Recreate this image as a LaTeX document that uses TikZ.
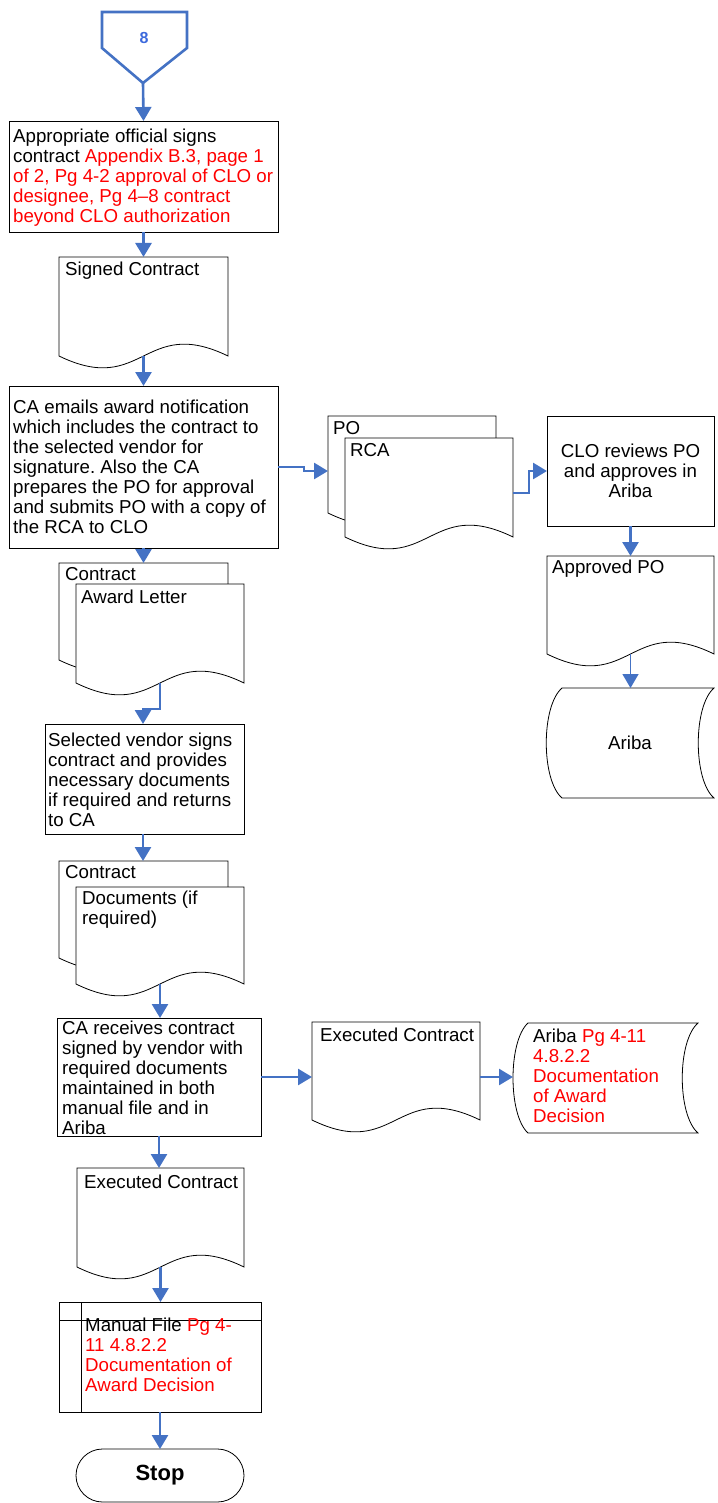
\documentclass[tikz,border=0pt]{standalone}
\usepackage{fontspec}
\setmainfont{Liberation Sans}
\usetikzlibrary{arrows.meta,calc}
\frenchspacing

\definecolor{flowblue}{RGB}{68,114,196}
\definecolor{refred}{RGB}{255,0,0}
\definecolor{pageblue}{RGB}{60,105,220}

\newcommand\bodyfont{\fontsize{18.7}{20}\selectfont}
\newcommand\rd[1]{\textcolor{refred}{#1}}

% document symbol: straight top and sides, wavy bottom through the frame's south anchor
\newcommand\drawdoc[1]{%
  \draw[outline] (#1.south west) -- (#1.north west) -- (#1.north east) -- (#1.south east)
    .. controls ($(#1.south)+(0,-41)$) and ($(#1.south)+(0,41)$) .. (#1.south west) -- cycle;}

\tikzset{
  outline/.style={draw=black, line width=0.8pt, fill=white, line join=miter},
  boxnode/.style={outline, inner sep=0pt, outer sep=0pt},
  frame/.style={inner sep=0pt, outer sep=0pt},
  flow/.style={draw=flowblue, line width=2.6pt, -{Triangle[length=14pt,width=16pt]}},
  thinflow/.style={draw=flowblue, line width=1.4pt, -{Triangle[length=14pt,width=16pt]}},
  % multi-line labels sit on the baseline of their last line
  txt/.style={anchor=base west, inner sep=0pt, align=left, font=\bodyfont},
  ctxt/.style={inner sep=0pt, align=center, font=\bodyfont},
}

\begin{document}
\begin{tikzpicture}[x=1pt, y=-1pt]
\useasboundingbox (0,0) rectangle (717,1503);

% ---- off-page reference 8 ----
\draw[draw=flowblue, line width=2.6pt, line join=miter] (102,12) -- (187,12) -- (187,48) -- (143,83) -- (102,48) -- cycle;
\node[inner sep=0pt, text=pageblue, font=\fontsize{16}{18}\selectfont\bfseries] (c8) at (144,37.5) {8};
\coordinate (c8tip) at (143,83);

% ---- left column ----
\node[boxnode, minimum width=269pt, minimum height=111pt] (b1) at (143.5,176.5) {};
\node[txt] (t1) at (13,223) {Appropriate official signs\\contract \rd{Appendix B.3, page 1}\\\rd{of 2, Pg 4-2 approval of CLO or}\\\rd{designee, Pg 4–8 contract}\\\rd{beyond CLO authorization}};

\node[frame, minimum width=169pt, minimum height=99pt] (sc) at (143.5,306.5) {};
\drawdoc{sc}
\node[txt] (sct) at (65,276) {Signed Contract};

\node[boxnode, minimum width=269pt, minimum height=162pt] (b2) at (143.5,467) {};
\node[txt] (t2) at (13,533) {CA emails award notification\\which includes the contract to\\the selected vendor for\\signature. Also the CA\\prepares the PO for approval\\and submits PO with a copy of\\the RCA to CLO};

\node[frame, minimum width=169pt, minimum height=97pt] (ctr1) at (143.5,611.5) {};
\drawdoc{ctr1}
\node[txt] (ctr1t) at (65,580) {Contract};
\node[frame, minimum width=168pt, minimum height=99pt] (awd) at (160,633.5) {};
\drawdoc{awd}
\node[txt] (awdt) at (81,603) {Award Letter};

\node[boxnode, minimum width=199pt, minimum height=110pt] (b3) at (144.5,779) {};
\node[txt] (t3) at (48,826) {Selected vendor signs\\contract and provides\\necessary documents\\if required and returns\\to CA};

\node[frame, minimum width=169pt, minimum height=97pt] (ctr2) at (143.5,909.5) {};
\drawdoc{ctr2}
\node[txt] (ctr2t) at (65,878) {Contract};
\node[frame, minimum width=168pt, minimum height=97pt] (docs) at (160,935.5) {};
\drawdoc{docs}
\node[txt] (docst) at (82,924) {Documents (if\\required)};

\node[boxnode, minimum width=204pt, minimum height=118pt] (b4) at (159,1077) {};
\node[txt] (t4) at (62,1134) {CA receives contract\\signed by vendor with\\required documents\\maintained in both\\manual file and in\\Ariba};

\node[frame, minimum width=167pt, minimum height=99pt] (ec2) at (160.5,1217.5) {};
\drawdoc{ec2}
\node[txt] (ec2t) at (84,1188) {Executed Contract};

% internal storage: manual file
\node[boxnode, minimum width=202pt, minimum height=110pt] (mf) at (160,1357) {};
\draw[outline, fill=none] ($(mf.north west)+(22,0)$) -- ($(mf.south west)+(22,0)$);
\draw[outline, fill=none] ($(mf.north west)+(0,18)$) -- ($(mf.north east)+(0,18)$);
\node[txt] (mft) at (85,1391) {Manual File \rd{Pg 4-}\\\rd{11 4.8.2.2}\\\rd{Documentation of}\\\rd{Award Decision}};

\node[boxnode, rounded corners=26.5pt, minimum width=168pt, minimum height=53pt, font=\fontsize{22}{26}\selectfont\bfseries] (stop) at (160,1475.5) {Stop};

% ---- middle and right column ----
\node[frame, minimum width=168pt, minimum height=97pt] (po) at (412,464.5) {};
\drawdoc{po}
\node[txt] (pot) at (333,434) {PO};
\node[frame, minimum width=168pt, minimum height=99pt] (rca) at (429,487.5) {};
\drawdoc{rca}
\node[txt] (rcat) at (350,456) {RCA};

\node[boxnode, minimum width=167pt, minimum height=110pt] (clo) at (630.5,471) {};
\node[ctxt] (clot) at (630.5,471) {CLO reviews PO\\and approves in\\Ariba};

\node[frame, minimum width=167pt, minimum height=98pt] (apo) at (630.5,605) {};
\drawdoc{apo}
\node[txt] (apot) at (552,573) {Approved PO};

% stored data: Ariba
\node[frame, minimum width=168pt, minimum height=110pt] (ariba) at (630,743) {};
\draw[outline] (562,688) -- (714,688) .. controls (693,706) and (693,780) .. (714,798)
  -- (562,798) .. controls (541,780) and (541,706) .. (562,688) -- cycle;
\node[ctxt] (aribat) at (630,743) {Ariba};

\node[frame, minimum width=168pt, minimum height=98pt] (ec) at (396,1071) {};
\drawdoc{ec}
\node[txt] (ect) at (320,1041) {Executed Contract};

\node[frame, minimum width=185pt, minimum height=110pt] (ariba2) at (605.5,1078) {};
\draw[outline] (528,1023) -- (698,1023) .. controls (677,1041) and (677,1115) .. (698,1133)
  -- (528,1133) .. controls (508,1115) and (508,1041) .. (528,1023) -- cycle;
\node[txt] (ariba2t) at (533,1122) {Ariba \rd{Pg 4-11}\\\rd{4.8.2.2}\\\rd{Documentation}\\\rd{of Award}\\\rd{Decision}};

% ---- connectors ----
\draw[flow] (c8tip) -- (b1.north);
\draw[flow] (b1.south) -- (b1.south |- sc.north);
\draw[flow] (sc.south) -- (sc.south |- b2.north);
\draw[flow] (b2.east) -- ++(26,0) |- ([yshift=-6.5pt]po.west);
\draw[flow] ([yshift=-5.5pt]rca.east) -- ++(16,0) |- (clo.west);
\draw[flow] (clo.south) -- (clo.south |- apo.north);
\draw[thinflow] (apo.south) -- (apo.south |- ariba.north);
\draw[flow] (b2.south) -- (b2.south |- ctr1.north);
\draw[flow] (awd.south) -- ++(0,26) -| ([xshift=-1.5pt]b3.north);
\draw[flow] ([xshift=-1.5pt]b3.south) -- ([xshift=-1.5pt]b3.south |- ctr2.north);
\draw[flow] (docs.south) -- (docs.south |- b4.north);
\draw[flow] (b4.east) -- (ec.west |- b4.east);
\draw[flow] (ec.east |- b4.east) -- (ariba2.west |- b4.east);
\draw[flow] (b4.south) -- (b4.south |- ec2.north);
\draw[flow] (ec2.south) -- (ec2.south |- mf.north);
\draw[flow] (mf.south) -- (stop.north);
\end{tikzpicture}
\end{document}
